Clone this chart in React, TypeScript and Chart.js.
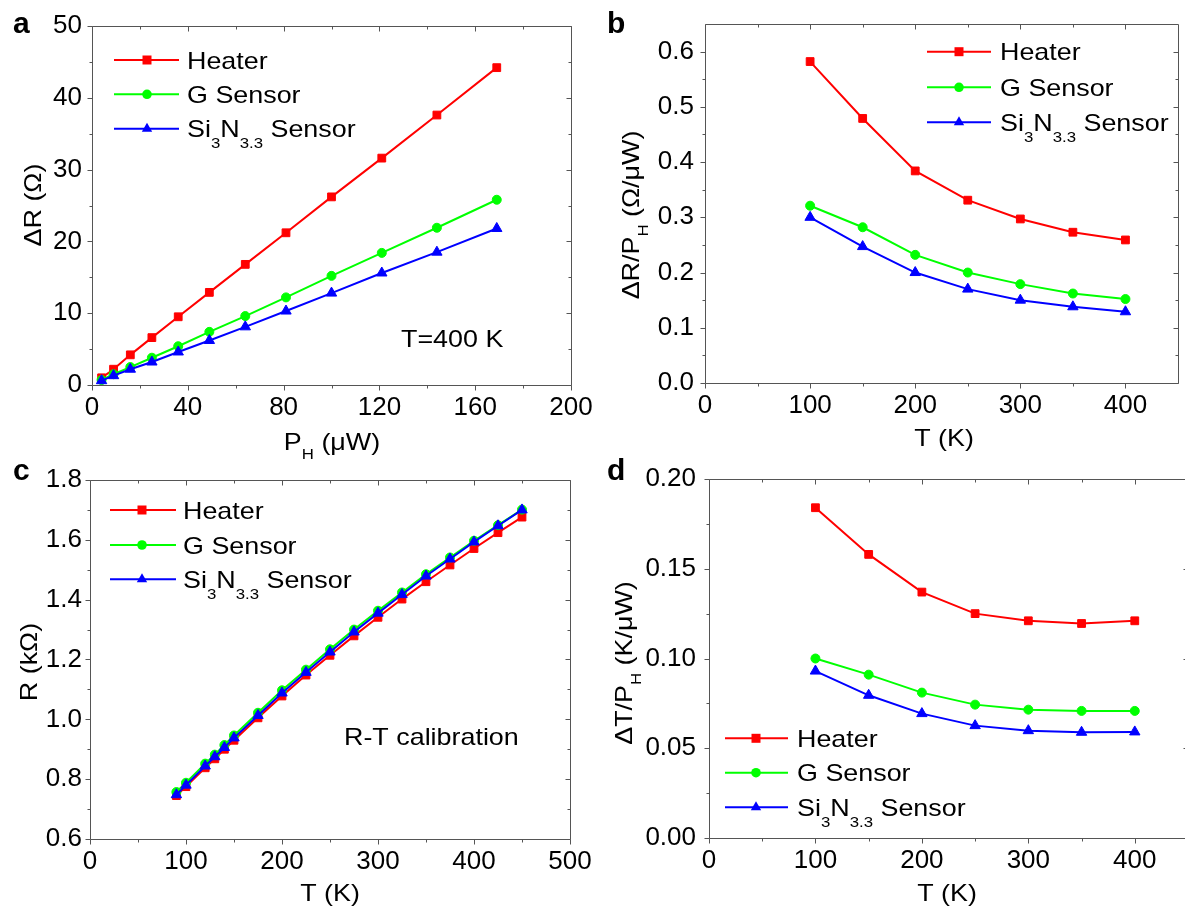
import React, { useEffect, useRef } from "react";
import { Chart, registerables } from "chart.js";

Chart.register(...registerables);

const FONT = '"Liberation Sans", Arial, Helvetica, sans-serif';
const SX = 1.12; // horizontal stretch of the reference lettering
const RED = "#ff0000";
const GREEN = "#00ff00";
const BLUE = "#0000ff";

// ---- series names ----
type Seg = { t: string; sub?: boolean };
const heaterLabel: Seg[] = [{ t: "Heater" }];
const gSensorLabel: Seg[] = [{ t: "G Sensor" }];
const siNLabel: Seg[] = [{ t: "Si" }, { t: "3", sub: true }, { t: "N" }, { t: "3.3", sub: true }, { t: " Sensor" }];

// ---- panel a: ΔR vs P_H at T = 400 K ----
const aPower = [4, 9, 16, 25, 36, 49, 64, 81, 100, 121, 144, 169];
const aHeater = [1.0, 2.2, 4.2, 6.6, 9.5, 12.9, 16.8, 21.2, 26.2, 31.6, 37.6, 44.2];
const aGSensor = [0.7, 1.5, 2.5, 3.8, 5.4, 7.4, 9.6, 12.2, 15.2, 18.4, 21.9, 25.8];
const aSiN = [0.6, 1.3, 2.2, 3.2, 4.6, 6.2, 8.1, 10.3, 12.8, 15.6, 18.5, 21.8];

// ---- panel b: ΔR/P_H vs T ----
const bTemp = [100, 150, 200, 250, 300, 350, 400];
const bHeater = [0.582, 0.479, 0.384, 0.331, 0.297, 0.273, 0.259];
const bGSensor = [0.321, 0.282, 0.232, 0.2, 0.179, 0.162, 0.152];
const bSiN = [0.3, 0.247, 0.2, 0.17, 0.15, 0.138, 0.129];

// ---- panel c: R-T calibration ----
const cTemp = [90, 100, 120, 130, 140, 150, 175, 200, 225, 250, 275, 300, 325, 350, 375, 400, 425, 450];
const cHeater = [0.745, 0.775, 0.838, 0.868, 0.9, 0.93, 1.005, 1.078, 1.148, 1.214, 1.279, 1.341, 1.402, 1.46, 1.516, 1.571, 1.624, 1.676];
const cGSensor = [0.757, 0.788, 0.852, 0.882, 0.914, 0.946, 1.022, 1.097, 1.166, 1.234, 1.3, 1.363, 1.424, 1.485, 1.541, 1.597, 1.649, 1.701];
const cSiN = [0.748, 0.78, 0.844, 0.875, 0.906, 0.938, 1.013, 1.088, 1.157, 1.225, 1.292, 1.355, 1.417, 1.479, 1.536, 1.593, 1.647, 1.7];

// ---- panel d: ΔT/P_H vs T ----
const dTemp = [100, 150, 200, 250, 300, 350, 400];
const dHeater = [0.184, 0.158, 0.137, 0.125, 0.121, 0.1195, 0.121];
const dGSensor = [0.1, 0.091, 0.081, 0.0743, 0.0715, 0.0708, 0.0708];
const dSiN = [0.093, 0.0795, 0.0693, 0.0626, 0.0598, 0.0589, 0.0591];

// ---- axis ticks ----
const aXTicks = { min: 0, max: 200, step: 40, dec: 0 };
const aYTicks = { min: 0, max: 50, step: 10, dec: 0 };
const bXTicks = { min: 0, max: 450, step: 100, dec: 0 };
const bYTicks = { min: 0, max: 0.65, step: 0.1, dec: 1 };
const cXTicks = { min: 0, max: 500, step: 100, dec: 0 };
const cYTicks = { min: 0.6, max: 1.8, step: 0.2, dec: 1 };
const dXTicks = { min: 0, max: 450, step: 100, dec: 0 };
const dYTicks = { min: 0, max: 0.2, step: 0.05, dec: 2 };

type TickSpec = { min: number; max: number; step: number; dec: number };

interface PanelSpec {
  L: number; T: number; W: number; H: number;
  plot: { L: number; T: number; R: number; B: number };
  x: number[];
  series: number[][];
  xt: TickSpec; yt: TickSpec;
  yPad: number; xPad: number;
  letter: { t: string; x: number; y: number };
  xTitle: { segs: Seg[]; x: number; y: number };
  yTitle: { segs: Seg[]; x: number; y: number };
  legend: { x1: number; x2: number; xm: number; xt: number; ys: number[] };
  note?: { t: string; x: number; y: number };
}

const seriesStyle = [
  { label: heaterLabel, color: RED, style: "rect", radius: 5.5, order: 2 },
  { label: gSensorLabel, color: GREEN, style: "circle", radius: 4.5, order: 1 },
  { label: siNLabel, color: BLUE, style: "triangle", radius: 6, order: 0 },
];

const panels: PanelSpec[] = [
  {
    L: 0, T: -10, W: 605, H: 470,
    plot: { L: 92, T: 26, R: 571, B: 385 },
    x: aPower, series: [aHeater, aGSensor, aSiN],
    xt: aXTicks, yt: aYTicks, yPad: 10, xPad: 7,
    letter: { t: "a", x: 13, y: 33 },
    xTitle: { segs: [{ t: "P" }, { t: "H", sub: true }, { t: " (\u03bcW)" }], x: 332, y: 450 },
    yTitle: { segs: [{ t: "\u0394R (\u03a9)" }], x: 41, y: 205 },
    legend: { x1: 114, x2: 179, xm: 147, xt: 187, ys: [60, 94.3, 128.7] },
    note: { t: "T=400 K", x: 401, y: 347 },
  },
  {
    L: 600, T: -10, W: 585, H: 470,
    plot: { L: 705, T: 24, R: 1183, B: 383 },
    x: bTemp, series: [bHeater, bGSensor, bSiN],
    xt: bXTicks, yt: bYTicks, yPad: 11, xPad: 7,
    letter: { t: "b", x: 607, y: 33 },
    xTitle: { segs: [{ t: "T (K)" }], x: 944, y: 446 },
    yTitle: { segs: [{ t: "\u0394R/P" }, { t: "H", sub: true }, { t: " (\u03a9/\u03bcW)" }], x: 639, y: 215 },
    legend: { x1: 927, x2: 991, xm: 959, xt: 1000, ys: [51.7, 87.3, 122.3] },
  },
  {
    L: 0, T: 445, W: 605, H: 466,
    plot: { L: 90, T: 480, R: 570, B: 839 },
    x: cTemp, series: [cHeater, cGSensor, cSiN],
    xt: cXTicks, yt: cYTicks, yPad: 8, xPad: 7,
    letter: { t: "c", x: 13, y: 480 },
    xTitle: { segs: [{ t: "T (K)" }], x: 330, y: 901 },
    yTitle: { segs: [{ t: "R (k\u03a9)" }], x: 37, y: 662 },
    legend: { x1: 110, x2: 176, xm: 142, xt: 183, ys: [510, 545, 579.3] },
    note: { t: "R-T calibration", x: 344, y: 745 },
  },
  {
    L: 600, T: 445, W: 600, H: 466,
    plot: { L: 709, T: 479, R: 1188, B: 838 },
    x: dTemp, series: [dHeater, dGSensor, dSiN],
    xt: dXTicks, yt: dYTicks, yPad: 13, xPad: 7,
    letter: { t: "d", x: 607, y: 480 },
    xTitle: { segs: [{ t: "T (K)" }], x: 947, y: 901 },
    yTitle: { segs: [{ t: "\u0394T/P" }, { t: "H", sub: true }, { t: " (K/\u03bcW)" }], x: 632, y: 663 },
    legend: { x1: 725, x2: 788, xm: 756, xt: 797, ys: [738.3, 772.7, 807.3] },
  },
];

function drawRich(
  ctx: CanvasRenderingContext2D, segs: Seg[], x: number, y: number,
  size: number, align: "left" | "center", subOff: number, bold = false
) {
  const main = `${bold ? "bold " : ""}${size}px ${FONT}`;
  const subF = `${Math.round(size * 0.62)}px ${FONT}`;
  let w = 0;
  for (const s of segs) {
    ctx.font = s.sub ? subF : main;
    w += ctx.measureText(s.t).width;
  }
  ctx.save();
  ctx.translate(x, y);
  ctx.scale(SX, 1);
  ctx.textAlign = "left";
  ctx.textBaseline = "alphabetic";
  ctx.fillStyle = "#000";
  let cx = align === "center" ? -w / 2 : 0;
  for (const s of segs) {
    ctx.font = s.sub ? subF : main;
    ctx.fillText(s.t, cx, s.sub ? size * subOff : 0);
    cx += ctx.measureText(s.t).width;
  }
  ctx.restore();
}

function drawMarker(ctx: CanvasRenderingContext2D, style: string, x: number, y: number, color: string) {
  ctx.fillStyle = color;
  ctx.beginPath();
  if (style === "rect") {
    ctx.rect(x - 4.5, y - 4.5, 9, 9);
  } else if (style === "circle") {
    ctx.arc(x, y, 4.8, 0, Math.PI * 2);
  } else {
    const r = 6;
    ctx.moveTo(x, y - r);
    ctx.lineTo(x + r * 0.866, y + r * 0.5);
    ctx.lineTo(x - r * 0.866, y + r * 0.5);
    ctx.closePath();
  }
  ctx.fill();
}

function minorValues(t: TickSpec): number[] {
  const out: number[] = [];
  const ms = t.step / 2;
  for (let k = 1; ; k++) {
    const v = t.min + k * ms;
    if (v > t.max - ms * 0.01) break;
    if (k % 2 === 1) out.push(v);
  }
  return out;
}

function makePlugins(p: PanelSpec) {
  const frame = {
    id: "frame",
    beforeDatasetsDraw(chart: any) {
      const { ctx, chartArea } = chart;
      const { left, right, top, bottom } = chartArea;
      const xs = chart.scales.x;
      const ys = chart.scales.y;
      ctx.save();
      ctx.strokeStyle = "#555";
      ctx.lineWidth = 1;
      const r = (v: number) => Math.round(v) + 0.5;
      ctx.beginPath();
      ctx.rect(r(left), r(top), Math.round(right) - Math.round(left), Math.round(bottom) - Math.round(top));
      ctx.stroke();
      const xMaj = xs.ticks.map((t: any) => t.value);
      const yMaj = ys.ticks.map((t: any) => t.value);
      const xMin = minorValues(p.xt);
      const yMin = minorValues(p.yt);
      ctx.beginPath();
      const xTick = (v: number, len: number) => {
        const px = r(xs.getPixelForValue(v));
        ctx.moveTo(px, r(bottom));
        ctx.lineTo(px, r(bottom) + len);
        ctx.moveTo(px, r(top));
        ctx.lineTo(px, r(top) + len);
      };
      const yTick = (v: number, len: number) => {
        const py = r(ys.getPixelForValue(v));
        ctx.moveTo(r(left), py);
        ctx.lineTo(r(left) - len, py);
        ctx.moveTo(r(right), py);
        ctx.lineTo(r(right) - len, py);
      };
      xMaj.forEach((v: number) => xTick(v, 5));
      xMin.forEach((v: number) => xTick(v, 3));
      yMaj.forEach((v: number) => yTick(v, 5));
      yMin.forEach((v: number) => yTick(v, 3));
      ctx.stroke();
      ctx.restore();
    },
  };
  const annot = {
    id: "annot",
    afterDraw(chart: any) {
      const ctx: CanvasRenderingContext2D = chart.ctx;
      const ox = p.L;
      const oy = p.T;
      ctx.save();
      // panel letter
      ctx.font = `bold 30px ${FONT}`;
      ctx.fillStyle = "#000";
      ctx.textAlign = "left";
      ctx.textBaseline = "alphabetic";
      ctx.fillText(p.letter.t, p.letter.x - ox, p.letter.y - oy);
      // axis titles
      drawRich(ctx, p.xTitle.segs, p.xTitle.x - ox, p.xTitle.y - oy, 24, "center", 0.38);
      ctx.save();
      ctx.translate(p.yTitle.x - ox, p.yTitle.y - oy);
      ctx.rotate(-Math.PI / 2);
      drawRich(ctx, p.yTitle.segs, 0, 0, 24, "center", 0.38);
      ctx.restore();
      // legend
      const lg = p.legend;
      seriesStyle.forEach((s, i) => {
        const y = lg.ys[i] - oy;
        ctx.strokeStyle = s.color;
        ctx.lineWidth = 2;
        ctx.beginPath();
        ctx.moveTo(lg.x1 - ox, y);
        ctx.lineTo(lg.x2 - ox, y);
        ctx.stroke();
        drawMarker(ctx, s.style, lg.xm - ox, y, s.color);
        drawRich(ctx, s.label, lg.xt - ox, y + 8.6, 24, "left", 0.45);
      });
      // note
      if (p.note) {
        drawRich(ctx, [{ t: p.note.t }], p.note.x - ox, p.note.y - oy, 24, "left", 0);
      }
      ctx.restore();
    },
  };
  return [frame, annot];
}

function buildConfig(p: PanelSpec): any {
  const datasets = p.series.map((vals, i) => {
    const s = seriesStyle[i];
    return {
      label: s.label.map((g) => g.t).join(""),
      data: p.x.map((xv, j) => ({ x: xv, y: vals[j] })),
      borderColor: s.color,
      backgroundColor: s.color,
      pointBackgroundColor: s.color,
      pointBorderColor: s.color,
      pointStyle: s.style,
      pointRadius: s.radius,
      pointBorderWidth: 1,
      borderWidth: 2,
      order: s.order,
      clip: false,
      tension: 0,
      showLine: true,
    };
  });
  const tickFont = { family: FONT, size: 26 };
  const yWidth = p.plot.L - p.L;
  const xHeight = p.T + p.H - p.plot.B;
  return {
    type: "scatter",
    data: { datasets },
    options: {
      animation: false,
      responsive: false,
      devicePixelRatio: 1,
      events: [],
      layout: { padding: { left: 0, top: p.plot.T - p.T, right: p.L + p.W - p.plot.R, bottom: 0 } },
      plugins: { legend: { display: false }, tooltip: { enabled: false }, title: { display: false } },
      scales: {
        x: {
          type: "linear",
          position: "bottom",
          min: p.xt.min,
          max: p.xt.max,
          afterFit: (s: any) => { s.height = xHeight; },
          grid: { display: false, drawTicks: false },
          border: { display: false },
          ticks: {
            stepSize: p.xt.step,
            includeBounds: false,
            autoSkip: false,
            maxRotation: 0,
            padding: p.xPad,
            color: "#000",
            font: tickFont,
            callback: (v: number) => Number(v).toFixed(p.xt.dec),
          },
        },
        y: {
          type: "linear",
          position: "left",
          min: p.yt.min,
          max: p.yt.max,
          afterFit: (s: any) => { s.width = yWidth; },
          grid: { display: false, drawTicks: false },
          border: { display: false },
          ticks: {
            stepSize: p.yt.step,
            includeBounds: false,
            autoSkip: false,
            padding: p.yPad,
            color: "#000",
            font: tickFont,
            callback: (v: number) => Number(v).toFixed(p.yt.dec),
          },
        },
      },
    },
    plugins: makePlugins(p),
  };
}

function Panel({ spec }: { spec: PanelSpec }) {
  const ref = useRef<HTMLCanvasElement>(null);
  useEffect(() => {
    if (!ref.current) return;
    const chart = new Chart(ref.current, buildConfig(spec));
    return () => chart.destroy();
  }, [spec]);
  return (
    <canvas
      ref={ref}
      width={spec.W}
      height={spec.H}
      style={{ position: "absolute", left: spec.L, top: spec.T, width: spec.W, height: spec.H }}
    />
  );
}

export default function App() {
  return (
    <div
      style={{
        position: "fixed",
        left: 0,
        top: 0,
        width: 1185,
        height: 911,
        overflow: "hidden",
        background: "#fff",
      }}
    >
      {panels.map((p, i) => (
        <Panel key={i} spec={p} />
      ))}
    </div>
  );
}
